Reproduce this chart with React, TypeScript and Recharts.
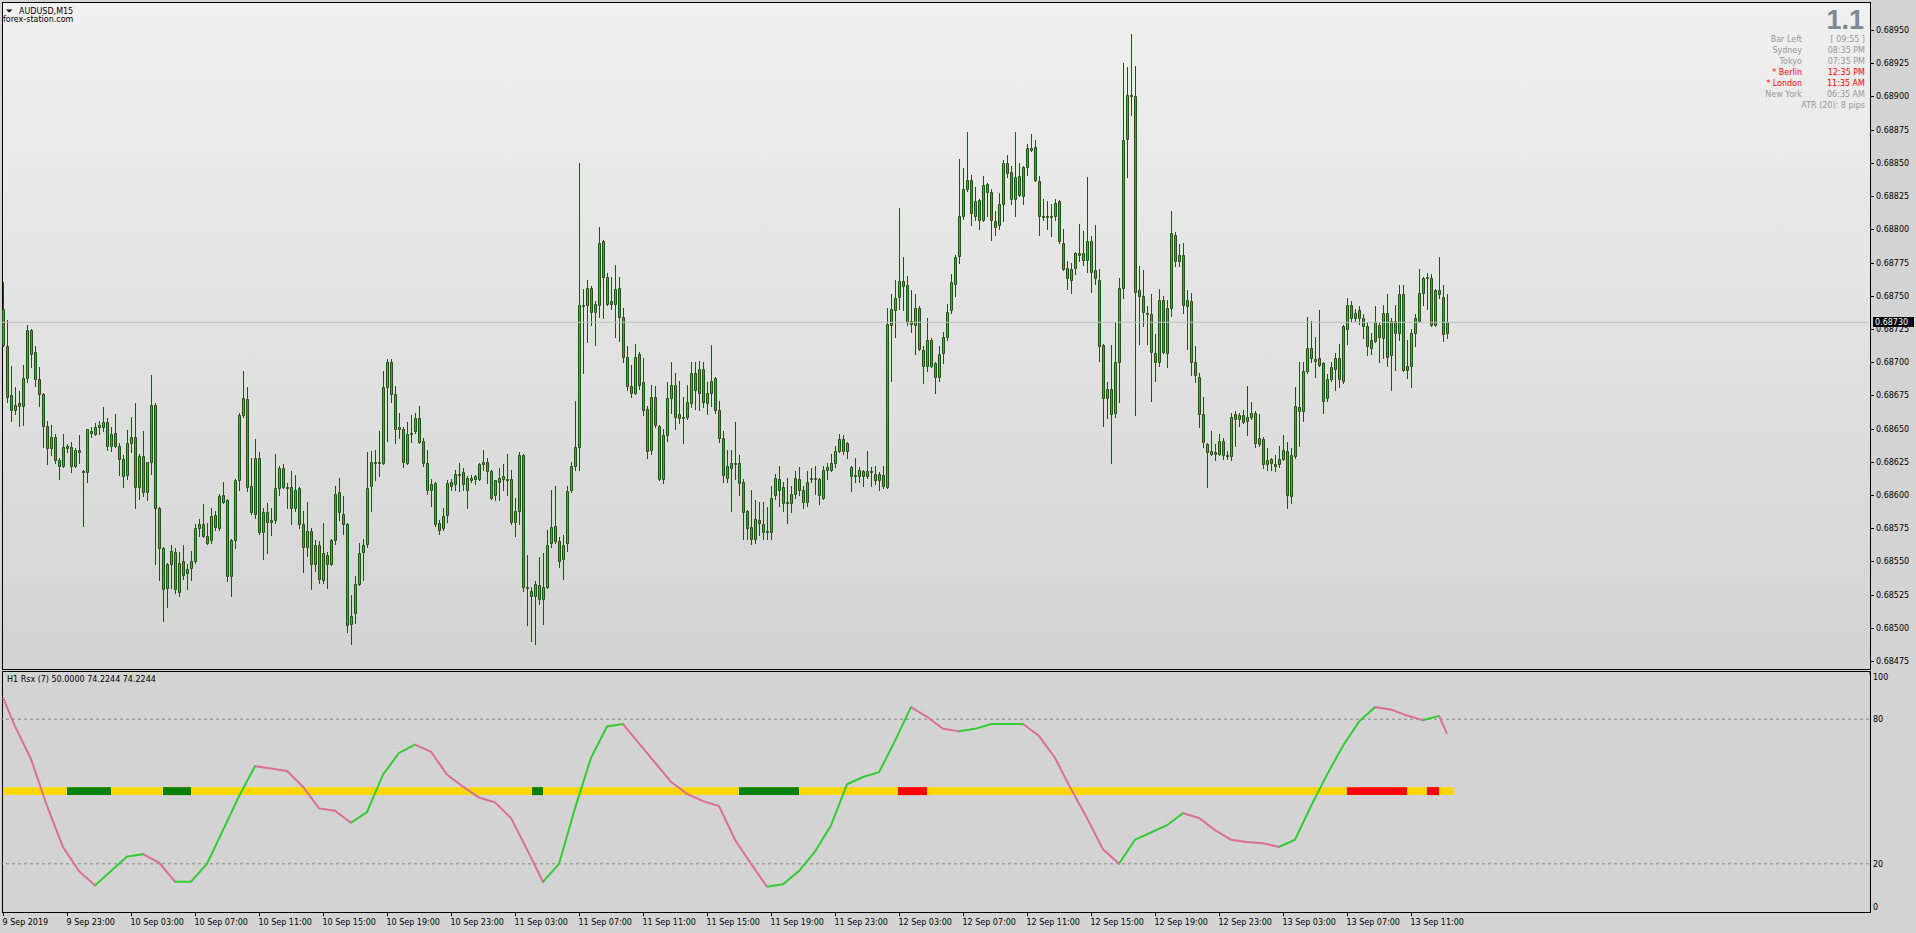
import React from 'react';
import {
  ComposedChart,
  Bar,
  Line,
  XAxis,
  YAxis,
  ReferenceLine,
  ReferenceArea,
} from 'recharts';

// AUDUSD M15, prices in points above 0.68000
const opens = [
  740, 712, 675, 664, 669, 667, 688, 724, 708, 687, 676, 652, 635, 644, 626, 622, 635, 636, 622, 632,
  618, 617, 647, 646, 651, 651, 655, 637, 647, 637, 627, 615, 639, 644, 606, 629, 602, 625, 668, 590,
  560, 530, 548, 557, 527, 550, 541, 545, 550, 575, 578, 569, 566, 585, 575, 600, 596, 539, 566, 611,
  660, 672, 607, 586, 628, 572, 587, 581, 581, 605, 620, 606, 606, 590, 605, 578, 561, 573, 548, 562,
  536, 555, 548, 566, 602, 586, 578, 503, 511, 533, 557, 563, 607, 625, 624, 624, 681, 700, 676, 651,
  650, 624, 646, 648, 658, 641, 624, 604, 609, 579, 575, 585, 610, 608, 616, 617, 604, 613, 612, 612,
  623, 625, 618, 600, 610, 612, 612, 612, 580, 588, 630, 531, 528, 524, 532, 522, 531, 564, 577, 565,
  552, 564, 604, 622, 636, 743, 743, 756, 738, 743, 791, 764, 744, 744, 756, 734, 704, 682, 677, 706,
  685, 665, 634, 674, 652, 612, 645, 673, 683, 661, 659, 659, 669, 692, 677, 695, 669, 677, 688, 664,
  643, 613, 620, 624, 624, 610, 588, 576, 567, 581, 578, 573, 572, 600, 612, 606, 595, 594, 601, 612,
  604, 595, 612, 613, 612, 598, 619, 619, 624, 633, 642, 633, 621, 615, 614, 618, 614, 618, 616, 611,
  615, 606, 728, 739, 749, 761, 758, 731, 728, 741, 709, 697, 717, 699, 689, 707, 719, 739, 759, 780,
  810, 830, 837, 810, 822, 807, 834, 828, 806, 803, 819, 850, 843, 823, 840, 825, 847, 861, 862, 836,
  810, 810, 809, 810, 821, 790, 771, 762, 771, 782, 782, 777, 791, 769, 762, 713, 673, 680, 662, 700,
  756, 868, 900, 900, 754, 750, 737, 736, 707, 700, 747, 707, 741, 796, 776, 781, 742, 746, 700, 689,
  661, 638, 631, 632, 631, 641, 630, 629, 661, 657, 660, 656, 659, 662, 638, 642, 623, 627, 623, 623,
  627, 633, 599, 629, 666, 663, 693, 711, 702, 703, 699, 673, 687, 695, 703, 686, 725, 743, 733, 739,
  733, 727, 711, 716, 728, 718, 737, 705, 731, 722, 751, 694, 697, 722, 731, 752, 763, 763, 728, 754,
  749, 722,
];
const highs = [
  760, 732, 697, 681, 678, 698, 728, 725, 712, 696, 677, 656, 653, 646, 628, 646, 638, 640, 635, 645,
  619, 650, 651, 654, 656, 666, 658, 651, 661, 639, 630, 649, 659, 669, 631, 648, 625, 690, 669, 591,
  561, 549, 562, 560, 557, 562, 548, 558, 578, 582, 593, 579, 590, 588, 601, 610, 597, 567, 612, 662,
  693, 681, 628, 642, 632, 590, 594, 590, 631, 622, 623, 609, 618, 615, 606, 588, 595, 575, 566, 565,
  579, 557, 567, 607, 613, 599, 579, 525, 539, 564, 567, 632, 633, 634, 648, 693, 702, 702, 682, 662,
  651, 655, 660, 662, 667, 643, 634, 612, 610, 581, 590, 611, 612, 619, 624, 620, 614, 615, 615, 624,
  634, 628, 619, 611, 620, 623, 631, 619, 598, 632, 631, 555, 531, 535, 553, 556, 574, 604, 607, 568,
  570, 607, 625, 671, 850, 755, 762, 757, 746, 802, 792, 767, 764, 773, 764, 741, 712, 698, 714, 708,
  703, 667, 683, 682, 653, 650, 685, 700, 692, 686, 674, 683, 700, 700, 701, 700, 685, 713, 689, 671,
  648, 634, 634, 655, 630, 612, 589, 604, 596, 595, 595, 591, 607, 616, 622, 610, 613, 607, 618, 621,
  607, 618, 620, 622, 613, 622, 624, 631, 637, 646, 645, 640, 622, 628, 621, 619, 633, 621, 622, 617,
  622, 741, 751, 762, 816, 779, 765, 754, 751, 742, 712, 733, 718, 700, 712, 723, 744, 766, 781, 853,
  846, 873, 841, 832, 823, 840, 835, 830, 814, 827, 852, 856, 848, 873, 850, 848, 864, 872, 867, 840,
  823, 821, 819, 823, 822, 800, 776, 775, 783, 804, 799, 839, 795, 803, 770, 714, 685, 713, 730, 763,
  925, 922, 947, 923, 772, 769, 742, 751, 721, 755, 750, 747, 814, 798, 789, 790, 754, 752, 712, 692,
  674, 639, 648, 638, 646, 643, 633, 662, 663, 662, 664, 682, 670, 663, 661, 644, 635, 628, 630, 637,
  645, 640, 635, 681, 700, 700, 734, 731, 719, 739, 700, 691, 700, 707, 714, 728, 748, 746, 740, 742,
  736, 730, 722, 742, 730, 743, 751, 733, 743, 758, 758, 717, 725, 736, 770, 764, 767, 766, 755, 779,
  758, 751,
];
const lows = [
  712, 670, 656, 661, 652, 653, 685, 696, 682, 667, 636, 623, 630, 624, 612, 621, 632, 617, 621, 624,
  577, 610, 644, 645, 646, 648, 634, 633, 636, 615, 606, 612, 632, 590, 597, 599, 596, 616, 548, 536,
  505, 516, 530, 526, 524, 537, 529, 536, 549, 569, 568, 563, 564, 574, 574, 594, 535, 524, 560, 604,
  659, 603, 586, 583, 571, 552, 556, 570, 579, 600, 605, 590, 578, 588, 575, 542, 554, 529, 543, 534,
  534, 530, 547, 563, 581, 571, 497, 488, 504, 532, 536, 561, 588, 611, 614, 623, 641, 670, 639, 643,
  621, 623, 640, 647, 639, 622, 601, 592, 577, 571, 574, 580, 604, 604, 603, 604, 590, 610, 608, 611,
  619, 609, 597, 596, 596, 604, 600, 578, 569, 578, 528, 502, 490, 488, 518, 503, 530, 561, 564, 546,
  537, 558, 602, 619, 619, 692, 715, 728, 713, 734, 733, 743, 740, 719, 716, 700, 679, 674, 676, 680,
  660, 628, 631, 651, 611, 609, 641, 662, 650, 654, 639, 657, 666, 665, 664, 666, 661, 667, 662, 640,
  610, 610, 588, 612, 600, 567, 567, 563, 564, 570, 567, 567, 567, 597, 592, 588, 579, 587, 598, 600,
  590, 592, 610, 601, 593, 597, 612, 618, 621, 632, 631, 628, 603, 610, 610, 607, 613, 607, 608, 604,
  605, 605, 686, 719, 740, 739, 728, 723, 706, 709, 684, 693, 696, 677, 686, 699, 717, 737, 750, 775,
  808, 829, 803, 807, 800, 806, 810, 792, 796, 800, 806, 839, 819, 810, 825, 819, 841, 859, 836, 796,
  807, 800, 795, 807, 790, 769, 755, 752, 766, 776, 773, 768, 753, 759, 701, 652, 658, 624, 659, 670,
  748, 839, 886, 660, 714, 727, 714, 671, 686, 697, 707, 696, 735, 772, 772, 737, 710, 690, 685, 651,
  636, 606, 630, 626, 630, 627, 627, 626, 637, 652, 654, 645, 657, 636, 637, 620, 619, 619, 618, 621,
  626, 590, 594, 628, 637, 656, 692, 700, 689, 697, 662, 671, 686, 679, 681, 684, 714, 731, 731, 729,
  718, 705, 706, 715, 700, 703, 697, 679, 694, 717, 693, 688, 681, 712, 730, 743, 740, 727, 727, 748,
  716, 718,
];
const closes = [
  713, 674, 664, 668, 667, 688, 724, 706, 687, 676, 652, 635, 644, 626, 622, 636, 637, 622, 634, 634,
  617, 650, 648, 651, 653, 655, 637, 646, 637, 627, 614, 639, 644, 606, 629, 602, 625, 668, 590, 560,
  529, 548, 558, 529, 549, 540, 544, 550, 575, 578, 569, 564, 584, 576, 599, 595, 539, 566, 611, 660,
  673, 606, 587, 628, 572, 587, 580, 580, 605, 620, 606, 605, 590, 604, 578, 561, 573, 548, 562, 537,
  556, 548, 566, 601, 587, 578, 502, 509, 533, 556, 562, 605, 625, 624, 625, 681, 700, 676, 650, 650,
  625, 646, 647, 658, 640, 624, 604, 608, 578, 574, 584, 609, 607, 616, 615, 608, 613, 611, 614, 623,
  625, 618, 598, 611, 613, 614, 611, 580, 588, 630, 531, 530, 524, 533, 522, 531, 562, 576, 565, 550,
  562, 603, 622, 636, 743, 742, 756, 738, 744, 790, 764, 744, 746, 755, 734, 704, 682, 677, 704, 683,
  664, 633, 674, 653, 612, 645, 673, 683, 659, 658, 658, 670, 692, 679, 695, 670, 677, 686, 664, 643,
  615, 622, 624, 623, 609, 587, 575, 567, 582, 579, 572, 572, 598, 613, 604, 594, 594, 601, 613, 604,
  595, 610, 613, 612, 600, 619, 621, 624, 633, 642, 633, 639, 614, 614, 619, 614, 618, 617, 611, 616,
  607, 729, 740, 748, 761, 757, 730, 729, 741, 710, 697, 717, 697, 689, 706, 719, 738, 760, 779, 810,
  830, 837, 812, 821, 807, 833, 828, 807, 802, 819, 850, 842, 823, 839, 826, 847, 861, 860, 837, 810,
  809, 809, 810, 820, 791, 770, 763, 770, 782, 781, 777, 791, 768, 763, 712, 673, 680, 661, 700, 756,
  867, 901, 901, 753, 750, 738, 736, 708, 700, 747, 708, 741, 797, 776, 781, 743, 747, 700, 690, 661,
  640, 632, 633, 631, 641, 630, 629, 659, 657, 660, 655, 659, 662, 639, 643, 623, 626, 624, 622, 627,
  634, 600, 630, 667, 663, 693, 711, 703, 701, 698, 671, 687, 696, 703, 687, 727, 743, 733, 737, 733,
  727, 712, 717, 730, 719, 737, 704, 731, 722, 751, 694, 697, 722, 733, 752, 763, 764, 728, 754, 751,
  721, 730,
];

const priceTicks = [
  0.68475, 0.685, 0.68525, 0.6855, 0.68575, 0.686, 0.68625, 0.6865, 0.68675, 0.687,
  0.68725, 0.6875, 0.68775, 0.688, 0.68825, 0.6885, 0.68875, 0.689, 0.68925, 0.6895,
];
const bidPrice = 0.6873;

// H1 RSX(7): first bar, one value per hour, current bar
const rsxValues = [
  89,
  77, 63.5, 44, 27, 17, 11, 17, 23, 24, 20.5,
  12.6, 12.6, 20, 34, 48, 60.5, 59.5, 58.5, 52, 43,
  42, 37, 41.5, 57, 66, 69.5, 66.5, 57, 52, 47.5,
  45.5, 39, 26, 12.5, 20, 43, 64, 77, 78, 70,
  62, 54, 49, 46, 44, 30, 20, 10.5, 11.5, 17,
  25, 36, 53, 56, 58, 71, 85, 81, 76, 75,
  76, 78, 78, 78, 73, 64, 51, 39, 26, 20,
  30, 33, 36, 41, 39, 34, 30, 29, 28.5, 27,
  30, 44, 57, 69, 79, 85, 84, 81.5, 79.6, 81.4,
  74,
];
const rsxLevels = [80, 20];
const signalMid = 50;
const signalEnd = 362.75;
const signalFrom = [16, 40, 132.25, 184, 223.75, 336, 356];
const signalTo = [27, 47, 135, 199, 231, 351, 359];
const signalUp = [true, true, true, true, false, false, false];

const timeTicks = [0, 16, 32, 48, 64, 80, 96, 112, 128, 144, 160, 176, 192, 208, 224, 240, 256, 272, 288, 304, 320, 336, 352];
const timeLabels = [
  '9 Sep 2019', '9 Sep 23:00', '10 Sep 03:00', '10 Sep 07:00', '10 Sep 11:00', '10 Sep 15:00',
  '10 Sep 19:00', '10 Sep 23:00', '11 Sep 03:00', '11 Sep 07:00', '11 Sep 11:00', '11 Sep 15:00',
  '11 Sep 19:00', '11 Sep 23:00', '12 Sep 03:00', '12 Sep 07:00', '12 Sep 11:00', '12 Sep 15:00',
  '12 Sep 19:00', '12 Sep 23:00', '13 Sep 03:00', '13 Sep 07:00', '13 Sep 11:00',
];

const infoLabels = ['Bar Left', 'Sydney', 'Tokyo', '* Berlin', '* London', 'New York'];
const infoValues = ['[ 09:55 ]', '08:35 PM', '07:35 PM', '12:35 PM', '11:35 AM', '06:35 AM'];
const infoActive = [false, false, false, true, true, false];

const FONT = "'DejaVu Sans', sans-serif";
const SLOTS = 467;
const WICK = '#1f5512';
const BULL = '#3fb52a';
const BEAR = '#c4623e';
const RSX_UP = '#32cd32';
const RSX_DOWN = '#db7093';

const pt = (v: number) => 0.68 + v / 100000;
const N = Math.min(opens.length, highs.length, lows.length, closes.length);

const candles = Array.from({ length: SLOTS }, (_, i) => {
  if (i >= N) return { i };
  const o = pt(opens[i]);
  const c = pt(closes[i]);
  const h = Math.max(pt(highs[i]), o, c);
  const l = Math.min(pt(lows[i]), o, c);
  return { i, o, h, l, c, range: [l, h] };
});

const rsxPts = rsxValues.map((v, j) => ({
  i: j === 0 ? 0 : j === rsxValues.length - 1 ? N - 1 : 3 + 4 * (j - 1),
  rsx: v,
}));

const rsxStops: { off: number; color: string }[] = [];
{
  const first = rsxPts[0].i;
  const span = rsxPts[rsxPts.length - 1].i - first;
  for (let j = 0; j < rsxPts.length - 1; j++) {
    const color = rsxPts[j + 1].rsx >= rsxPts[j].rsx ? RSX_UP : RSX_DOWN;
    rsxStops.push({ off: (rsxPts[j].i - first) / span, color });
    rsxStops.push({ off: (rsxPts[j + 1].i - first) / span, color });
  }
}

function Candle(props: any) {
  const { x, y, width, height, payload } = props;
  if (!payload || payload.o == null) return null;
  const { o, h, l, c } = payload;
  const cx = Math.round(x + width / 2);
  const span = h - l;
  const py = (p: number) => (span > 0 ? y + ((h - p) / span) * height : y);
  const top = Math.round(py(Math.max(o, c)));
  const bot = Math.round(py(Math.min(o, c)));
  const yh = Math.round(y);
  const yl = Math.round(y + height);
  const x0 = cx - 0.5;
  const x1 = cx + 1.5;
  const t = top + 0.5;
  const b = Math.max(bot, top) + 0.5;
  return (
    <g>
      <line x1={cx + 0.5} x2={cx + 0.5} y1={yh} y2={yl + 1} stroke={WICK} strokeWidth={1} />
      <path
        d={`M${x0},${t}H${x1}V${b}H${x0}Z`}
        fill={c >= o ? BULL : BEAR}
        stroke={WICK}
        strokeWidth={1}
      />
    </g>
  );
}

function PriceTick(props: any) {
  const { x, y, payload } = props;
  const yy = Math.round(y) + 0.5;
  return (
    <g>
      <line x1={x + 1} x2={x + 5} y1={yy} y2={yy} stroke="#000" />
      <text x={x + 7} y={yy} fontSize={8} fontFamily={FONT} fill="#000" dominantBaseline="central">
        {Number(payload.value).toFixed(5)}
      </text>
    </g>
  );
}

function BidLabel(props: any) {
  const vb = props.viewBox || {};
  const x = (vb.x || 0) + (vb.width || 0) + 4;
  const y = Math.round(vb.y || 0);
  return (
    <g>
      <rect x={x} y={y - 5} width={41} height={10} fill="#000" />
      <text x={x + 2} y={y} fontSize={8} fontFamily={FONT} fill="#fff" dominantBaseline="central">
        {bidPrice.toFixed(5)}
      </text>
    </g>
  );
}

function LevelTick(props: any) {
  const { x, y, payload } = props;
  const v = payload.value;
  const dy = v === 100 ? 6 : v === 0 ? -5 : 0;
  const yy = Math.round(y) + 0.5;
  return (
    <g>
      {v === 100 && <line x1={x + 1} x2={x + 1} y1={yy} y2={yy + 3} stroke="#000" />}
      <text x={x + 4} y={yy + dy} fontSize={8} fontFamily={FONT} fill="#000" dominantBaseline="central">
        {v}
      </text>
    </g>
  );
}

function TimeTick(props: any) {
  const { x, y, payload } = props;
  const idx = timeTicks.indexOf(payload.value);
  const px = Math.round(x) + 0.5;
  return (
    <g>
      <line x1={px} x2={px} y1={y} y2={y + 4} stroke="#000" />
      <text x={px - 1} y={y + 10} fontSize={8} fontFamily={FONT} fill="#000" dominantBaseline="central">
        {idx >= 0 ? timeLabels[idx] : ''}
      </text>
    </g>
  );
}

export default function App() {
  return (
    <div
      style={{
        position: 'absolute',
        left: 0,
        top: 0,
        width: 1916,
        height: 933,
        background: '#d3d3d3',
        overflow: 'hidden',
        fontFamily: FONT,
      }}
    >
      <div
        style={{
          position: 'absolute',
          left: 2,
          top: 2,
          width: 1869,
          height: 668,
          boxSizing: 'border-box',
          border: '1px solid #000',
          background: 'linear-gradient(#f0f0f0, #d3d3d3)',
        }}
      />
      <div
        style={{
          position: 'absolute',
          left: 2,
          top: 671,
          width: 1869,
          height: 242,
          boxSizing: 'border-box',
          border: '1px solid #000',
          background: '#d3d3d3',
        }}
      />

      <div style={{ position: 'absolute', left: 0, top: 0 }}>
        <ComposedChart
          width={1916}
          height={670}
          data={candles}
          margin={{ top: 2, right: 0, bottom: 1, left: 1 }}
          barCategoryGap={0}
        >
          <XAxis dataKey="i" type="category" hide />
          <YAxis
            orientation="right"
            width={47}
            domain={[0.68469, 0.689711]}
            allowDataOverflow
            ticks={priceTicks}
            interval={0}
            axisLine={false}
            tickLine={false}
            tickSize={0}
            tickMargin={0}
            tick={<PriceTick />}
          />
          <ReferenceLine y={bidPrice} stroke="#c0c0c0" strokeWidth={1} label={<BidLabel />} />
          <Bar dataKey="range" shape={<Candle />} isAnimationActive={false} />
        </ComposedChart>
      </div>

      <div style={{ position: 'absolute', left: 0, top: 671 }}>
        <ComposedChart
          width={1916}
          height={262}
          data={rsxPts}
          margin={{ top: 0, right: 0, bottom: 0, left: 1 }}
        >
          <defs>
            <linearGradient id="rsxGrad" x1="0" y1="0" x2="1" y2="0">
              {rsxStops.map((s, k) => (
                <stop key={k} offset={s.off} stopColor={s.color} />
              ))}
            </linearGradient>
          </defs>
          <XAxis
            dataKey="i"
            type="number"
            domain={[-0.5, SLOTS - 0.5]}
            allowDataOverflow
            ticks={timeTicks}
            interval={0}
            height={21}
            axisLine={false}
            tickLine={false}
            tickSize={0}
            tickMargin={0}
            tick={<TimeTick />}
          />
          <YAxis
            orientation="right"
            width={47}
            domain={[0, 100]}
            allowDataOverflow
            ticks={[0, 20, 80, 100]}
            interval={0}
            axisLine={false}
            tickLine={false}
            tickSize={0}
            tickMargin={0}
            tick={<LevelTick />}
          />
          {rsxLevels.map((lv) => (
            <ReferenceLine key={lv} y={lv} stroke="#8a8a8a" strokeDasharray="3 3" />
          ))}
          <ReferenceArea
            x1={0}
            x2={signalEnd}
            y1={signalMid - 1.5}
            y2={signalMid + 1.8}
            fill="#ffd700"
            fillOpacity={1}
            stroke="none"
          />
          {signalFrom.map((s, k) => (
            <ReferenceArea
              key={k}
              x1={s}
              x2={signalTo[k]}
              y1={signalMid - 1.5}
              y2={signalMid + 1.8}
              fill={signalUp[k] ? '#008000' : '#ff0000'}
              fillOpacity={1}
              stroke="none"
            />
          ))}
          <Line
            dataKey="rsx"
            type="linear"
            stroke="url(#rsxGrad)"
            strokeWidth={2}
            dot={false}
            activeDot={false}
            isAnimationActive={false}
          />
        </ComposedChart>
      </div>

      <svg
        width={1916}
        height={933}
        style={{ position: 'absolute', left: 0, top: 0, pointerEvents: 'none' }}
      >
        <polygon points="6,9.5 12.5,9.5 9.25,12.5" fill="#000" />
        <text x={19} y={11} fontSize={8} fontFamily={FONT} fill="#000" dominantBaseline="central">
          AUDUSD,M15
        </text>
        <text x={3} y={19} fontSize={8} fontFamily={FONT} fill="#000" dominantBaseline="central">
          forex-station.com
        </text>
        <text
          x={1864}
          y={29}
          fontSize={27}
          fontWeight="bold"
          fontFamily="'Liberation Sans', Arial, sans-serif"
          fill="#7e8896"
          textAnchor="end"
        >
          1.1
        </text>
        {infoLabels.map((lab, k) => (
          <g key={lab}>
            <text
              x={1802}
              y={39 + k * 11}
              fontSize={8}
              fontFamily={FONT}
              fill={infoActive[k] ? '#ff0000' : '#999999'}
              textAnchor="end"
              dominantBaseline="central"
            >
              {lab}
            </text>
            <text
              x={1865}
              y={39 + k * 11}
              fontSize={8}
              fontFamily={FONT}
              fill={infoActive[k] ? '#ff0000' : '#999999'}
              textAnchor="end"
              dominantBaseline="central"
            >
              {infoValues[k]}
            </text>
          </g>
        ))}
        <text
          x={1865}
          y={105}
          fontSize={8}
          fontFamily={FONT}
          fill="#999999"
          textAnchor="end"
          dominantBaseline="central"
        >
          ATR (20): 8 pips
        </text>
        <text x={7} y={679} fontSize={8} fontFamily={FONT} fill="#000" dominantBaseline="central">
          H1 Rsx (7) 50.0000 74.2244 74.2244
        </text>
      </svg>
    </div>
  );
}
